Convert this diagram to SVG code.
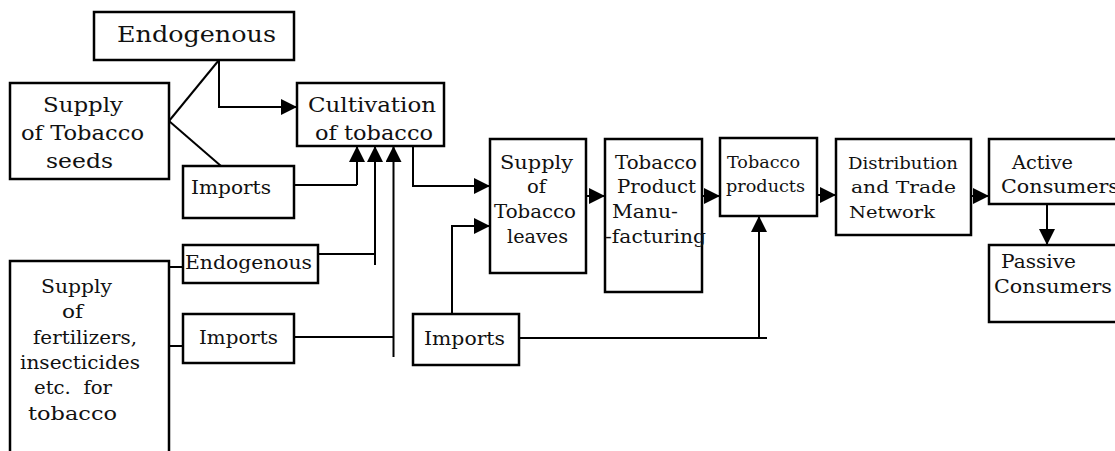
<svg xmlns="http://www.w3.org/2000/svg" width="1115" height="451" viewBox="0 0 1115 451">
<style>
.box{fill:#fff;stroke:#000;stroke-width:2.5}
.ln{fill:none;stroke:#000;stroke-width:2}
.arr{fill:none;stroke:#000;stroke-width:2;marker-end:url(#ah)}
text{font-family:"DejaVu Serif","Liberation Serif",serif;fill:#111}
.t23{font-size:23px}.t21{font-size:21px}.t19{font-size:19px}.t17{font-size:17px}.t16{font-size:16px}
.pre{white-space:pre}
</style>
<defs>
<marker id="ah" markerUnits="userSpaceOnUse" markerWidth="16" markerHeight="16" refX="16" refY="8" orient="auto">
<path d="M0,0 L16,8 L0,16 z" fill="#000"/>
</marker>
</defs>
<rect width="1115" height="451" fill="#fff"/>
<g id="connectors">
<path class="ln" d="M169,121 L219,60"/>
<path class="ln" d="M169,121 L221,166"/>
<path class="arr" d="M219,60 V107 H297"/>
<path class="ln" d="M294,185 H357"/>
<path class="arr" d="M357,185 V146"/>
<path class="ln" d="M318,254 H375"/>
<path class="arr" d="M375,265 V146"/>
<path class="ln" d="M294,337 H394"/>
<path class="arr" d="M393.5,357 V146"/>
<path class="ln" d="M169,267 H183"/>
<path class="ln" d="M169,346 H183"/>
<path class="arr" d="M413,146 V186 H490"/>
<path class="arr" d="M452,314 V226 H490"/>
<path class="ln" d="M519,338 H767"/>
<path class="arr" d="M759,338 V216"/>
<path class="arr" d="M586,196 H605"/>
<path class="arr" d="M702,196 H720"/>
<path class="arr" d="M817,195 H836"/>
<path class="arr" d="M971,196 H989"/>
<path class="arr" d="M1047,204 V245"/>
</g>
<g id="endogenous-top">
<rect class="box" x="94" y="12" width="200" height="48"/>
<text class="t23" x="117" y="42" textLength="159" lengthAdjust="spacingAndGlyphs">Endogenous</text>
</g>
<g id="seeds">
<rect class="box" x="10" y="83" width="159" height="96"/>
<text class="t21" x="43" y="112" textLength="80" lengthAdjust="spacingAndGlyphs">Supply</text>
<text class="t21" x="21" y="140" textLength="123" lengthAdjust="spacingAndGlyphs">of Tobacco</text>
<text class="t21" x="46" y="168" textLength="67" lengthAdjust="spacingAndGlyphs">seeds</text>
</g>
<g id="cultivation">
<rect class="box" x="297" y="83" width="147" height="63"/>
<text class="t21" x="308" y="112" textLength="128" lengthAdjust="spacingAndGlyphs">Cultivation</text>
<text class="t21" x="315" y="140" textLength="118" lengthAdjust="spacingAndGlyphs">of tobacco</text>
</g>
<g id="imports-seeds">
<rect class="box" x="183" y="166" width="111" height="52"/>
<text class="t19" x="191" y="194" textLength="80" lengthAdjust="spacingAndGlyphs">Imports</text>
</g>
<g id="fertilizers">
<path class="box" d="M10,460 V261 H169 V460"/>
<text class="t19" x="41" y="293" textLength="71" lengthAdjust="spacingAndGlyphs">Supply</text>
<text class="t19" x="62" y="318" textLength="21" lengthAdjust="spacingAndGlyphs">of</text>
<text class="t19" x="33" y="344" textLength="104" lengthAdjust="spacingAndGlyphs">fertilizers,</text>
<text class="t19" x="20" y="369" textLength="120" lengthAdjust="spacingAndGlyphs">insecticides</text>
<text class="t19 pre" x="34" y="394" textLength="78" lengthAdjust="spacingAndGlyphs">etc.  for</text>
<text class="t19" x="28" y="420" textLength="89" lengthAdjust="spacingAndGlyphs">tobacco</text>
</g>
<g id="endogenous-fert">
<rect class="box" x="183" y="245" width="135" height="38"/>
<text class="t19" x="185" y="269" textLength="127" lengthAdjust="spacingAndGlyphs">Endogenous</text>
</g>
<g id="imports-fert">
<rect class="box" x="183" y="314" width="111" height="49"/>
<text class="t19" x="199" y="344" textLength="79" lengthAdjust="spacingAndGlyphs">Imports</text>
</g>
<g id="imports-leaves">
<rect class="box" x="413" y="314" width="106" height="51"/>
<text class="t19" x="424" y="345" textLength="81" lengthAdjust="spacingAndGlyphs">Imports</text>
</g>
<g id="leaves">
<rect class="box" x="490" y="139" width="96" height="134"/>
<text class="t19" x="500" y="169" textLength="73" lengthAdjust="spacingAndGlyphs">Supply</text>
<text class="t19" x="527" y="193" textLength="19" lengthAdjust="spacingAndGlyphs">of</text>
<text class="t19" x="494" y="218" textLength="82" lengthAdjust="spacingAndGlyphs">Tobacco</text>
<text class="t19" x="507" y="243" textLength="61" lengthAdjust="spacingAndGlyphs">leaves</text>
</g>
<g id="manufacturing">
<rect class="box" x="605" y="139" width="97" height="153"/>
<text class="t19" x="615" y="169" textLength="82" lengthAdjust="spacingAndGlyphs">Tobacco</text>
<text class="t19" x="617" y="193" textLength="79" lengthAdjust="spacingAndGlyphs">Product</text>
<text class="t19" x="612" y="218" textLength="66" lengthAdjust="spacingAndGlyphs">Manu-</text>
<text class="t19" x="605" y="243" textLength="101" lengthAdjust="spacingAndGlyphs">-facturing</text>
</g>
<g id="products">
<rect class="box" x="720" y="138" width="97" height="78"/>
<text class="t16" x="727" y="168" textLength="73" lengthAdjust="spacingAndGlyphs">Tobacco</text>
<text class="t16" x="726" y="192" textLength="79" lengthAdjust="spacingAndGlyphs">products</text>
</g>
<g id="distribution">
<rect class="box" x="836" y="139" width="135" height="96"/>
<text class="t17" x="848" y="169" textLength="110" lengthAdjust="spacingAndGlyphs">Distribution</text>
<text class="t17" x="851" y="193" textLength="105" lengthAdjust="spacingAndGlyphs">and Trade</text>
<text class="t17" x="849" y="218" textLength="86" lengthAdjust="spacingAndGlyphs">Network</text>
</g>
<g id="active">
<rect class="box" x="989" y="139" width="140" height="65"/>
<text class="t19" x="1012" y="169" textLength="61" lengthAdjust="spacingAndGlyphs">Active</text>
<text class="t19" x="1001" y="193" textLength="118" lengthAdjust="spacingAndGlyphs">Consumers</text>
</g>
<g id="passive">
<rect class="box" x="989" y="245" width="140" height="77"/>
<text class="t19" x="1001" y="268" textLength="75" lengthAdjust="spacingAndGlyphs">Passive</text>
<text class="t19" x="994" y="293" textLength="118" lengthAdjust="spacingAndGlyphs">Consumers</text>
</g>
</svg>
